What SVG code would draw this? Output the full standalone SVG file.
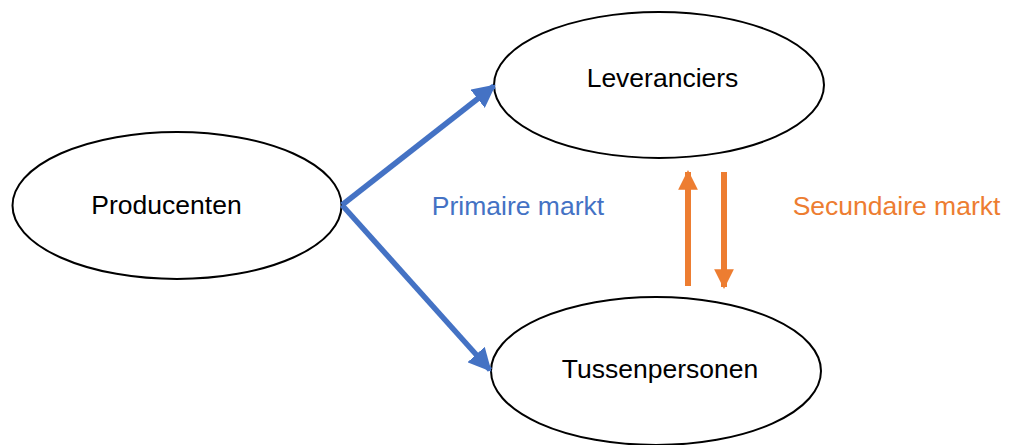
<svg xmlns="http://www.w3.org/2000/svg" width="1009" height="445" viewBox="0 0 1009 445">
<style>
.node{fill:#fff;stroke:#000;stroke-width:2}
.lbl{font-family:"Liberation Sans",Arial,sans-serif;font-size:26.5px;text-anchor:middle;fill:#000}
.blue{stroke:#4472C4;stroke-width:5.5;fill:none}
.orange{stroke:#ED7D31;stroke-width:6;fill:none}
</style>
<defs>
<marker id="ab" viewBox="0 0 10 10" refX="9" refY="5" markerWidth="4.2" markerHeight="4.2" markerUnits="strokeWidth" orient="auto"><path d="M0,0 L10,5 L0,10 z" fill="#4472C4"/></marker>
<marker id="ao" viewBox="0 0 10 10" refX="9" refY="5" markerWidth="3.3" markerHeight="3.6" markerUnits="strokeWidth" orient="auto"><path d="M0,0 L10,5 L0,10 z" fill="#ED7D31"/></marker>
</defs>
<g id="producenten"><ellipse class="node" cx="177" cy="205.5" rx="164.5" ry="73.5"/><text class="lbl" x="166.5" y="214">Producenten</text></g>
<g id="leveranciers"><ellipse class="node" cx="659" cy="85" rx="165" ry="73"/><text class="lbl" x="662.5" y="87">Leveranciers</text></g>
<g id="tussenpersonen"><ellipse class="node" cx="656" cy="371" rx="165" ry="74"/><text class="lbl" x="660" y="378">Tussenpersonen</text></g>
<g id="connectors">
<line class="blue" x1="342" y1="205" x2="494" y2="86" marker-end="url(#ab)"/>
<line class="blue" x1="342" y1="205" x2="490" y2="370" marker-end="url(#ab)"/>
<line class="orange" x1="688" y1="286" x2="688" y2="172" marker-end="url(#ao)"/>
<line class="orange" x1="724" y1="172" x2="724" y2="287" marker-end="url(#ao)"/>
</g>
<text class="lbl" x="518" y="215" style="fill:#4472C4">Primaire markt</text>
<text class="lbl" x="896.5" y="215" style="fill:#ED7D31">Secundaire markt</text>
</svg>
